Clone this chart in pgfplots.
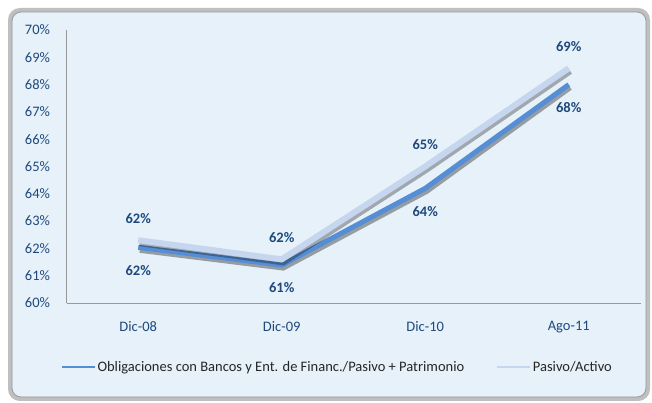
\documentclass[border=0pt]{standalone}
\usepackage{pgfplots}
\pgfplotsset{compat=1.18}
\usepackage{fontspec}
\setmainfont{Carlito}
\definecolor{dk}{HTML}{558ED5}
\definecolor{lt}{HTML}{C6D6EE}
\definecolor{lab}{HTML}{1F497D}
\definecolor{bg}{HTML}{E6F1F9}
\newcommand{\fs}{\fontsize{14.5bp}{17bp}\selectfont}
\begin{document}
\begin{tikzpicture}
\fill[white] (0bp,0bp) rectangle (652bp,403bp);
\draw[line width=4bp, draw=gray!50, fill=bg, rounded corners=10bp] (10bp,4bp) rectangle (648bp,393bp);
\draw[line width=0.8bp, draw=gray!80, rounded corners=9bp] (12bp,6bp) rectangle (646bp,391bp);
\begin{axis}[
  at={(66.5bp,100bp)}, anchor=south west,
  scale only axis, width=574bp, height=273bp,
  axis x line=bottom, axis y line=left,
  axis line style={-, draw=gray!80, line width=0.8bp},
  xmin=-0.5, xmax=3.5, ymin=60, ymax=70,
  xtick={0,1,2,3}, xticklabels={Dic-08,Dic-09,Dic-10,Ago-11},
  ytick={60,61,...,70},
  yticklabel={\pgfmathprintnumber{\tick}\%},
  /pgf/number format/assume math mode=true,
  major tick length=0,
  tick label style={font=\fs, text=lab},
  yticklabel style={anchor=east, xshift=-13bp},
  xticklabel style={yshift=-15bp},
  clip=false,
  legend style={at={(0.472,-0.234)}, anchor=center, draw=none, fill=none,
    font=\fs, text=black!85, legend columns=2,
    /tikz/every even column/.append style={column sep=30bp}},
  legend image code/.code={\draw[#1, line width=1.5bp] (0bp,0bp) -- (33bp,0bp);},
  nodes near coords={\pgfmathprintnumber[fixed,precision=0]{\pgfplotspointmeta}\%},
  every node near coord/.append style={font=\fs\bfseries, text=lab, anchor=center},
]
% shadows
\addplot[draw=black, opacity=0.35, line width=5bp, xshift=1.5bp, yshift=-3bp, forget plot, nodes near coords={}] coordinates {(0,62.04) (1,61.39) (2,64.2) (3,68.0)};
\addplot[draw=dk, line width=5bp, every node near coord/.append style={yshift=-23bp}] coordinates {(0,62.04) (1,61.39) (2,64.2) (3,68.0)};
\addlegendentry{Obligaciones con Bancos y Ent. de Financ./Pasivo + Patrimonio}
\addplot[draw=black, opacity=0.3, line width=6bp, xshift=1.5bp, yshift=-3bp, forget plot, nodes near coords={}] coordinates {(0,62.3) (1,61.6) (2,65.0) (3,68.6)};
\addplot[draw=lt, line width=6bp, every node near coord/.append style={yshift=22bp}] coordinates {(0,62.3) (1,61.6) (2,65.0) (3,68.6)};
\addlegendentry{Pasivo/Activo}
\end{axis}
\end{tikzpicture}
\end{document}
